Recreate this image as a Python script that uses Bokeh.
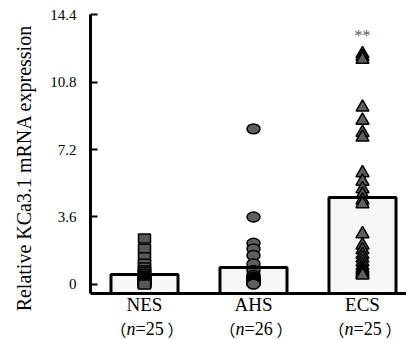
import math
from bokeh.plotting import figure
from bokeh.models import FixedTicker, Whisker, ColumnDataSource, TeeHead, Label
from bokeh.core.properties import value
from bokeh.embed import file_html
from bokeh.resources import INLINE

categories = ["NES", "AHS", "ECS"]
n_counts = ["25", "26", "25"]
bar_means = [0.53, 0.90, 4.64]
bar_sem = [0.15, 0.30, 0.75]

nes_values = [2.45, 1.9, 1.45, 1.1, 0.9, 0.75, 0.65, 0.55, 0.45, 0.38, 0.32, 0.28, 0.25,
              0.22, 0.2, 0.18, 0.15, 0.12, 0.1, 0.08, 0.06, 0.05, 0.04, 0.02, 0.0]
ahs_values = [8.3, 3.6, 2.2, 1.9, 1.55, 1.1, 0.75, 0.5, 0.3, 0.4, 0.35, 0.3, 0.28, 0.25,
              0.22, 0.2, 0.18, 0.15, 0.14, 0.12, 0.1, 0.1, 0.08, 0.06, 0.05, 0.02]
ecs_values = [12.3, 12.15, 12.0, 9.45, 8.75, 8.1, 7.85, 5.95, 5.5, 5.1, 4.8, 4.5, 4.3, 2.7,
              2.1, 1.85, 1.6, 1.4, 1.2, 1.0, 0.85, 0.75, 0.65, 0.55, 0.5]

y_ticks = [0, 3.6, 7.2, 10.8, 14.4]
y_tick_labels = ["0", "3.6", "7.2", "10.8", "14.4"]
signif_label = "**"
y_title = "Relative KCa3.1 mRNA expression"

SERIF = "Liberation Serif"
CJK = "Noto Sans CJK SC"
Y0 = -0.48          # where the x axis line sits
X0 = 0.5046         # where the y axis line sits
X1 = 3.4037
YTOP = 14.4
xpos = [i + 1 for i in range(len(categories))]

p = figure(width=406, height=340, output_backend="svg", toolbar_location=None,
           x_range=(-0.3211, 3.4037), y_range=(-2.9867, 15.1467),
           min_border=0)
p.outline_line_color = None
p.xgrid.visible = False
p.ygrid.visible = False
p.background_fill_color = "white"
p.border_fill_color = "white"

bars = ColumnDataSource(dict(x=xpos, top=bar_means,
                             lo=[m - s for m, s in zip(bar_means, bar_sem)],
                             hi=[m + s for m, s in zip(bar_means, bar_sem)]))
p.vbar(x="x", top="top", bottom=Y0, width=0.615, source=bars,
       fill_color="#f6f6f6", line_color=None)

p.add_layout(Whisker(base="x", lower="lo", upper="hi", source=bars, line_color="black", line_width=2,
                     upper_head=TeeHead(size=10, line_color="black", line_width=2),
                     lower_head=TeeHead(size=10, line_color="black", line_width=2)))

p.rect(x=[xpos[0]] * len(nes_values), y=nes_values, width=12, height=9,
       width_units="screen", height_units="screen",
       fill_color="#585858", line_color="black", line_width=1.5)
p.ellipse(x=[xpos[1]] * len(ahs_values), y=ahs_values, width=13, height=10,
          width_units="screen", height_units="screen",
          fill_color="#5e5e5e", line_color="black", line_width=1.5)
p.scatter(x=[xpos[2]] * len(ecs_values), y=ecs_values, marker="triangle", size=13,
          fill_color="#5e5e5e", line_color="black", line_width=1.5)

p.vbar(x="x", top="top", bottom=Y0, width=0.615, source=bars,
       fill_color=None, line_color="black", line_width=3)

p.text(x=[xpos[2]], y=[13.3], text=[signif_label], text_font=value(SERIF), text_font_size="16px",
       text_color="#555555", text_align="center", text_baseline="middle")

# y axis, drawn at a fixed location inside the full-size frame
p.yaxis.fixed_location = X0
p.yaxis.bounds = (Y0, YTOP)
p.yaxis.ticker = FixedTicker(ticks=y_ticks)
p.yaxis.major_label_overrides = {t: l for t, l in zip(y_ticks, y_tick_labels)}
p.yaxis.axis_line_width = 3
p.yaxis.major_tick_in = 7
p.yaxis.major_tick_out = 0
p.yaxis.major_tick_line_width = 2
p.yaxis.minor_tick_line_color = None
p.yaxis.major_label_text_font = SERIF
p.yaxis.major_label_text_font_size = "15px"
p.yaxis.major_label_text_color = "black"
p.yaxis.major_label_standoff = 14

# x axis
p.xaxis.fixed_location = Y0
p.xaxis.bounds = (X0, X1)
p.xaxis.ticker = FixedTicker(ticks=xpos)
p.xaxis.major_label_overrides = {x: c for x, c in zip(xpos, categories)}
p.xaxis.axis_line_width = 3
p.xaxis.major_tick_in = 0
p.xaxis.major_tick_out = 0
p.xaxis.major_tick_line_color = None
p.xaxis.minor_tick_line_color = None
p.xaxis.major_label_text_font = SERIF
p.xaxis.major_label_text_font_size = "19px"
p.xaxis.major_label_text_color = "black"
p.xaxis.major_label_standoff = 1

# second line of category labels: （n=25）
NY = -2.36
for x, n in zip(xpos, n_counts):
    p.add_layout(Label(x=x, y=NY, x_offset=-18, text="（", text_font=CJK, text_font_size="16px",
                       text_align="right", text_baseline="middle", text_color="black"))
    p.add_layout(Label(x=x, y=NY, x_offset=-18, text="n", text_font=SERIF, text_font_size="18px",
                       text_font_style="italic", text_align="left", text_baseline="middle",
                       text_color="black"))
    p.add_layout(Label(x=x, y=NY, x_offset=-9, text="=" + n, text_font=SERIF, text_font_size="18px",
                       text_align="left", text_baseline="middle", text_color="black"))
    p.add_layout(Label(x=x, y=NY, x_offset=23, text="）", text_font=CJK, text_font_size="16px",
                       text_align="left", text_baseline="middle", text_color="black"))

# y axis title
p.add_layout(Label(x=-0.110, y=6.21, text=y_title, angle=math.pi / 2,
                   text_font=SERIF, text_font_size="20px", text_color="black",
                   text_align="center", text_baseline="middle"))

open("out.html", "w").write(file_html(p, INLINE))
